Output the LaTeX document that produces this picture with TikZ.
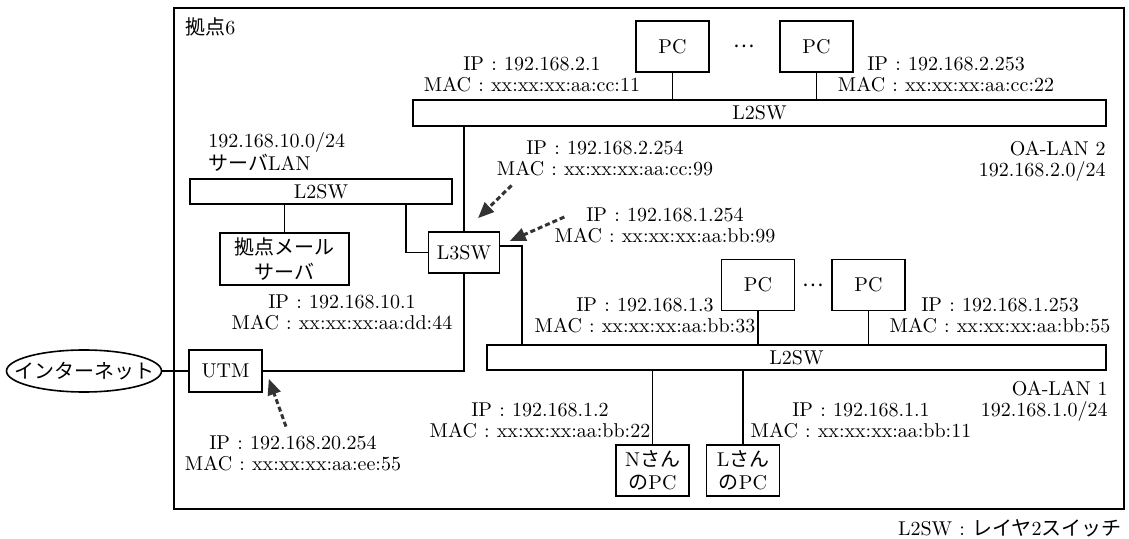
\documentclass[tikz,border=0pt]{standalone}
\usepackage{fontspec}
\newfontfamily\jp{Noto Sans CJK JP}
\usetikzlibrary{shapes.geometric,arrows.meta}
\newcommand{\fc}{\hspace{0.36em}:\hspace{0.36em}}

\begin{document}
\begin{tikzpicture}[x=0.5pt,y=-0.5pt,
    font=\fontsize{10}{10.5}\selectfont,
    wire/.style={line width=0.8pt},
    box/.style={draw,line width=0.8pt,inner sep=0pt,align=center},
    pcbox/.style={box,minimum width=36.5pt,minimum height=25.5pt},
    addr/.style={inner sep=0pt,align=center},
    callout/.style={line width=1.5pt,black!80,dash pattern=on 2.5pt off 1.5pt,-{Triangle[length=8pt,width=6.5pt]}}]
    \useasboundingbox (0,0) rectangle (1129,539);

    % Quadro do site
    \draw[wire] (174,8) rectangle (1124,509);
    \node[anchor=west,inner sep=0pt] (sitelabel) at (185,27) {{\jp 拠点}6};

    % OA-LAN 2
    \node[pcbox] (pca) at (672.5,46.5) {PC};
    \node[pcbox] (pcb) at (816.5,46.5) {PC};
    \node[addr] (dotsa) at (744.5,46.5) {{\jp …}};
    \node[box,minimum width=346.5pt,minimum height=13pt] (l2top) at (759.5,113) {L2SW};
    \node[addr] (ipa) at (532,74) {IP\fc 192.168.2.1\\MAC\fc xx:xx:xx:aa:cc:11};
    \node[addr] (ipb) at (946,74) {IP\fc 192.168.2.253\\MAC\fc xx:xx:xx:aa:cc:22};
    \node[addr,anchor=east,align=right] (oalan2) at (1106,161) {OA-LAN 2\\192.168.2.0/24};

    % Servidor
    \node[addr,anchor=west,align=left] (srvlan) at (208,152) {192.168.10.0/24\\{\jp サーバ}LAN};
    \node[box,minimum width=131pt,minimum height=12.5pt] (l2srv) at (321,191.5) {L2SW};
    \node[box,minimum width=64.5pt,minimum height=26pt,font=\fontsize{10}{12.5}\selectfont\jp] (mail) at (284.5,259) {拠点メール\\サーバ};
    \node[addr] (ipmail) at (342,312) {IP\fc 192.168.10.1\\MAC\fc xx:xx:xx:aa:dd:44};

    % L3SW
    \node[box,minimum width=35.5pt,minimum height=20.5pt] (l3sw) at (464,252.5) {L3SW};
    \node[addr] (ip2254) at (605,158.5) {IP\fc 192.168.2.254\\MAC\fc xx:xx:xx:aa:cc:99};
    \node[addr] (ip1254) at (665,225.5) {IP\fc 192.168.1.254\\MAC\fc xx:xx:xx:aa:bb:99};

    % UTM e internet
    \node[box,minimum width=36.5pt,minimum height=21pt] (utm) at (225.5,371) {UTM};
    \node[draw,ellipse,line width=0.8pt,inner sep=0pt,minimum width=77.5pt,minimum height=21pt] (inet) at (84,371) {\makebox[0pt]{\jp インターネット}};
    \node[addr] (iputm) at (293,453.5) {IP\fc 192.168.20.254\\MAC\fc xx:xx:xx:aa:ee:55};

    % OA-LAN 1
    \node[box,minimum width=309.5pt,minimum height=12.5pt] (l2low) at (796.5,357.5) {L2SW};
    \node[pcbox] (pcc) at (758,285) {PC};
    \node[pcbox] (pcd) at (868.5,285) {PC};
    \node[addr] (dotsb) at (813,285) {{\jp …}};
    \node[addr] (ip13) at (645,315.5) {IP\fc 192.168.1.3\\MAC\fc xx:xx:xx:aa:bb:33};
    \node[addr] (ip1253) at (1000,315.5) {IP\fc 192.168.1.253\\MAC\fc xx:xx:xx:aa:bb:55};
    \node[addr,anchor=east,align=right] (oalan1) at (1108,401) {OA-LAN 1\\192.168.1.0/24};
    \node[addr] (ip12) at (540,420) {IP\fc 192.168.1.2\\MAC\fc xx:xx:xx:aa:bb:22};
    \node[addr] (ip11) at (861,420) {IP\fc 192.168.1.1\\MAC\fc xx:xx:xx:aa:bb:11};
    \node[pcbox,font=\fontsize{10}{11.5}\selectfont] (npc) at (652.5,470.5) {N{\jp さん}\\{\jp の}PC};
    \node[pcbox,font=\fontsize{10}{11.5}\selectfont] (lpc) at (743,470.5) {L{\jp さん}\\{\jp の}PC};

    % Legenda
    \node[addr,anchor=east] (legend) at (1122,528) {L2SW\fc{\jp レイヤ}2{\jp スイッチ}};

    % Ligacoes
    \draw[wire] (pca.south) -- (pca.south |- l2top.north);
    \draw[wire] (pcb.south) -- (pcb.south |- l2top.north);
    \draw[wire] (l3sw.north) -- (l3sw.north |- l2top.south);
    \draw[wire] (mail.north) -- (mail.north |- l2srv.south);
    \draw[wire] ([xshift=-23.5pt]l2srv.south east) |- (l3sw.west);
    \draw[wire] (l3sw.10) -| ([xshift=18pt]l2low.north west);
    \draw[wire] (l3sw.south) |- (utm.east);
    \draw[wire] (inet.east) -- (utm.west);
    \draw[wire] (pcc.south) -- (pcc.south |- l2low.north);
    \draw[wire] (pcd.south) -- (pcd.south |- l2low.north);
    \draw[wire] (npc.north) -- (npc.north |- l2low.south);
    \draw[wire] (lpc.north) -- (lpc.north |- l2low.south);

    % Setas
    \draw[callout] ([shift={(7.5pt,-4.5pt)}]ip2254.south west) -- ([shift={(7pt,6.5pt)}]l3sw.north);
    \draw[callout] ([shift={(5pt,4.25pt)}]ip1254.west) -- ([shift={(4.75pt,5.75pt)}]l3sw.east);
    \draw[callout] ([shift={(-3.5pt,4.5pt)}]iputm.north) -- ([shift={(3pt,7pt)}]utm.south east);
\end{tikzpicture}
\end{document}
